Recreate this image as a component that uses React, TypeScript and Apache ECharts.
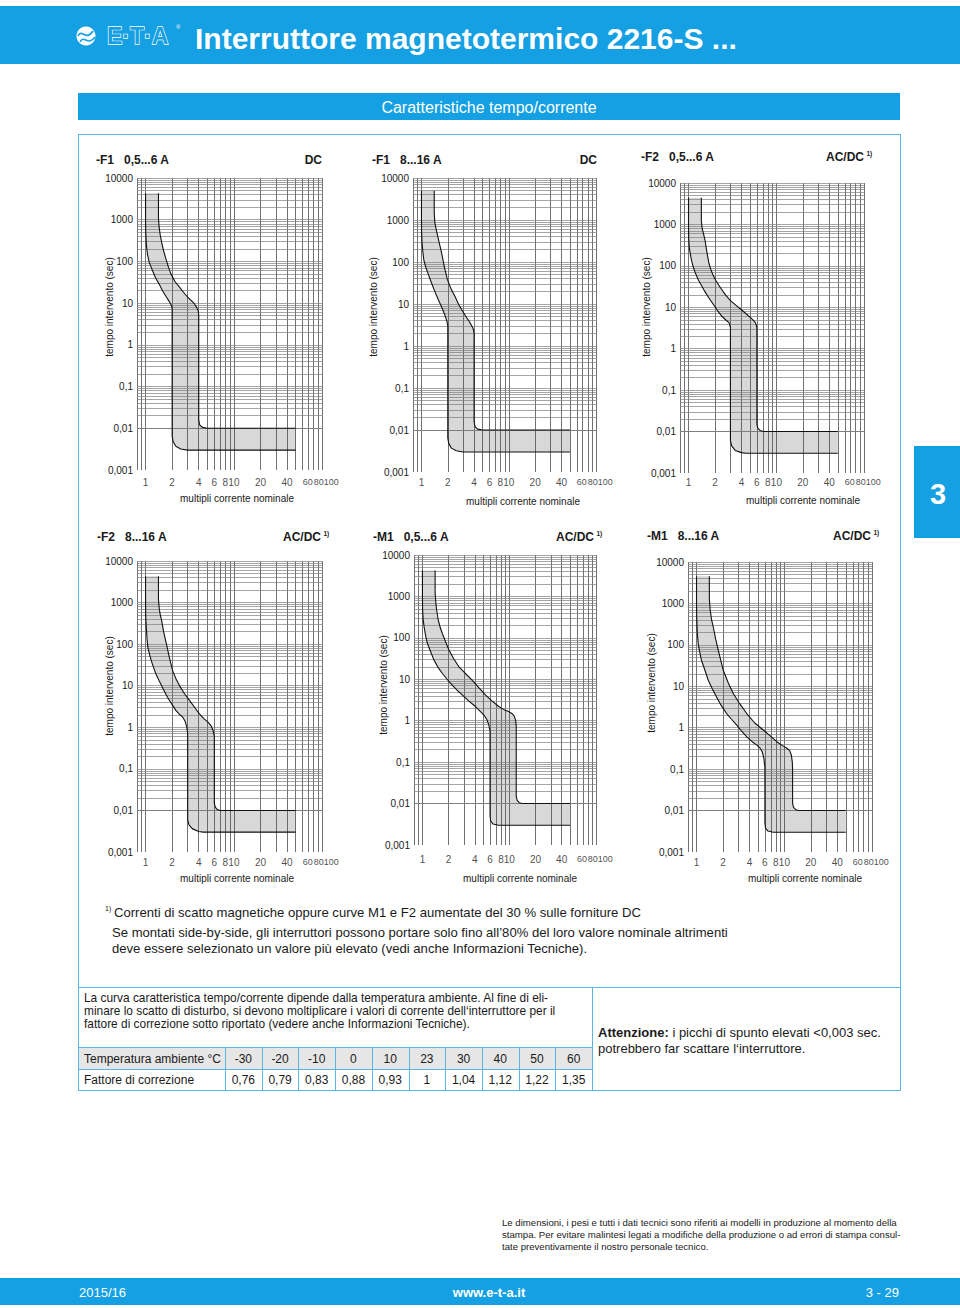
import React, { useEffect, useRef } from 'react';
import * as echarts from 'echarts';

// ---------------- data ----------------
const xTickValues = [1, 2, 4, 6, 8, 10, 20, 40, 60, 80, 100];
const xTickLabels = ['1', '2', '4', '6', '8', '10', '20', '40', '60', '80', '100'];
const xGridLines = [0.8, 0.9, 1, 2, 3, 4, 5, 6, 7, 8, 9, 10, 20, 30, 40, 50, 60, 70, 80, 90, 100];
const yDecades = [0.001, 0.01, 0.1, 1, 10, 100, 1000];
const yMultipliers = [1, 2, 3, 4, 5, 6, 7, 8, 9];
const yTop = 10000;

const panelTitles = ['-F1   0,5...6 A', '-F1   8...16 A', '-F2   0,5...6 A', '-F2   8...16 A', '-M1   0,5...6 A', '-M1   8...16 A'];
const panelSupply = ['DC', 'DC', 'AC/DC', 'AC/DC', 'AC/DC', 'AC/DC'];
const panelFootnote = [false, false, true, true, true, true];

// F1 0,5...6 A DC
const f1SmallLower = [[1, 4300], [1, 1000], [1.005, 500], [1.02, 260], [1.05, 150], [1.1, 95], [1.2, 60], [1.3, 40], [1.42, 29], [1.55, 20], [1.72, 14], [1.85, 11], [1.95, 9], [2.0, 7.5], [2.0, 0.0065], [2.05, 0.0048], [2.2, 0.0037], [2.5, 0.0032], [3.0, 0.003], [50, 0.003]];
const f1SmallUpper = [[1.4, 4300], [1.4, 1100], [1.42, 700], [1.46, 450], [1.52, 290], [1.6, 180], [1.7, 115], [1.82, 72], [1.93, 51], [2.15, 33], [2.41, 24.5], [2.7, 18], [3.0, 14], [3.3, 11.5], [3.57, 9.7], [3.8, 7.8], [3.95, 6.5], [4.0, 5.0], [4.0, 0.016], [4.1, 0.012], [4.4, 0.0105], [5.0, 0.01], [50, 0.01]];

// F1 8...16 A DC
const f1LargeLower = [[1, 5000], [1, 1000], [1.003, 500], [1.015, 300], [1.035, 180], [1.064, 112], [1.12, 75], [1.19, 53], [1.3, 32], [1.42, 20], [1.55, 13], [1.7, 8.5], [1.85, 5.5], [1.95, 4], [2.0, 3], [2.0, 0.0065], [2.05, 0.0048], [2.2, 0.0037], [2.5, 0.0032], [3.0, 0.003], [50, 0.003]];
const f1LargeUpper = [[1.4, 5000], [1.4, 1500], [1.42, 900], [1.46, 650], [1.52, 450], [1.6, 280], [1.7, 165], [1.82, 80], [1.98, 38], [2.2, 22], [2.42, 15], [2.65, 10], [2.9, 7.2], [3.2, 5.2], [3.45, 4.1], [3.7, 3.2], [3.9, 2.6], [4.0, 2.0], [4.0, 0.016], [4.1, 0.012], [4.4, 0.0105], [5.0, 0.01], [50, 0.01]];

// F2 0,5...6 A AC/DC
const f2SmallLower = [[1, 4400], [1, 1000], [1.005, 450], [1.02, 280], [1.05, 190], [1.08, 138], [1.13, 95], [1.2, 66], [1.3, 45], [1.5, 26], [1.7, 17], [2.0, 10.3], [2.2, 7.6], [2.43, 5.9], [2.7, 4.8], [2.9, 4.2], [3.0, 3.3], [3.0, 0.006], [3.1, 0.0045], [3.4, 0.0035], [4.0, 0.0031], [4.5, 0.003], [50, 0.003]];
const f2SmallUpper = [[1.4, 4400], [1.4, 1200], [1.43, 800], [1.48, 600], [1.54, 420], [1.6, 250], [1.66, 160], [1.71, 114], [1.8, 80], [1.9, 60], [2.04, 45], [2.3, 30], [2.65, 19.7], [3.0, 14.5], [3.45, 11.3], [4.0, 8.7], [4.7, 6.5], [5.3, 5.2], [5.75, 4.3], [5.95, 3.6], [6.0, 3.0], [6.0, 0.015], [6.15, 0.012], [6.6, 0.0105], [7.3, 0.01], [50, 0.01]];

// F2 8...16 A AC/DC
const f2LargeLower = [[1, 4300], [1, 1000], [1.005, 450], [1.02, 250], [1.04, 130], [1.06, 85], [1.12, 52], [1.19, 34], [1.3, 20], [1.42, 13.4], [1.6, 8], [1.77, 5.3], [2.0, 3.5], [2.2, 2.55], [2.45, 2.0], [2.63, 1.76], [2.8, 1.4], [2.93, 1.0], [3.0, 0.7], [3.0, 0.006], [3.1, 0.0045], [3.4, 0.0036], [4.0, 0.0031], [4.5, 0.003], [50, 0.003]];
const f2LargeUpper = [[1.4, 4300], [1.4, 1200], [1.43, 700], [1.47, 500], [1.52, 372], [1.6, 200], [1.72, 103], [1.85, 50], [2.02, 23.4], [2.2, 15], [2.41, 10.2], [2.75, 6.5], [3.13, 4.5], [3.6, 3.0], [4.07, 2.1], [4.6, 1.6], [5.1, 1.33], [5.5, 1.1], [5.8, 0.85], [6.0, 0.6], [6.0, 0.015], [6.15, 0.012], [6.5, 0.0105], [7.0, 0.01], [50, 0.01]];

// M1 0,5...6 A AC/DC
const m1SmallLower = [[1, 4200], [1, 1000], [1.005, 470], [1.02, 280], [1.045, 186], [1.09, 110], [1.14, 74], [1.25, 45], [1.36, 29], [1.5, 20], [1.69, 14], [1.9, 10.3], [2.11, 8], [2.5, 5.5], [2.87, 4.2], [3.4, 3.0], [4.07, 2.2], [4.6, 1.7], [5.1, 1.37], [5.5, 1.08], [5.8, 0.8], [6.0, 0.55], [6.0, 0.005], [6.1, 0.0038], [6.5, 0.0032], [7.5, 0.003], [50, 0.003]];
const m1SmallUpper = [[1.4, 4200], [1.4, 1200], [1.43, 650], [1.47, 420], [1.52, 270], [1.6, 180], [1.69, 129], [1.85, 80], [2.02, 51], [2.3, 31], [2.63, 20], [3.1, 14], [3.73, 9.6], [4.4, 6.5], [5.3, 4.2], [6.3, 3.0], [7.55, 2.2], [8.7, 1.85], [9.8, 1.66], [10.7, 1.5], [11.3, 1.33], [11.8, 1.05], [12.0, 0.75], [12.0, 0.015], [12.3, 0.012], [13.0, 0.0105], [14.0, 0.01], [50, 0.01]];

// M1 8...16 A AC/DC
const m1LargeLower = [[1, 4500], [1, 1000], [1.005, 500], [1.02, 200], [1.045, 107], [1.09, 65], [1.14, 42], [1.25, 24], [1.36, 14], [1.5, 9], [1.69, 5.5], [1.9, 3.5], [2.2, 2.2], [2.5, 1.6], [2.87, 1.15], [3.3, 0.8], [3.73, 0.6], [4.3, 0.46], [4.86, 0.38], [5.3, 0.32], [5.6, 0.26], [5.85, 0.18], [6.0, 0.11], [6.0, 0.005], [6.1, 0.0038], [6.5, 0.0032], [7.5, 0.003], [50, 0.003]];
const m1LargeUpper = [[1.4, 4500], [1.4, 1300], [1.43, 700], [1.48, 420], [1.55, 270], [1.65, 140], [1.77, 74], [1.9, 40], [2.02, 24], [2.3, 12], [2.63, 6.6], [3.1, 3.8], [3.73, 2.2], [4.6, 1.3], [5.8, 0.87], [7.0, 0.62], [8.2, 0.46], [9.5, 0.37], [10.7, 0.32], [11.5, 0.28], [12.0, 0.22], [12.3, 0.15], [12.4, 0.1], [12.4, 0.015], [12.7, 0.012], [13.5, 0.0105], [14.6, 0.01], [50, 0.01]];

const lowerCurves = [f1SmallLower, f1LargeLower, f2SmallLower, f2LargeLower, m1SmallLower, m1LargeLower];
const upperCurves = [f1SmallUpper, f1LargeUpper, f2SmallUpper, f2LargeUpper, m1SmallUpper, m1LargeUpper];

const tempLabels = ['-30', '-20', '-10', '0', '10', '23', '30', '40', '50', '60'];
const corrFactors = ['0,76', '0,79', '0,83', '0,88', '0,93', '1', '1,04', '1,12', '1,22', '1,35'];

// ---------------- layout / style ----------------
const layouts = [
  { grid: [137, 178, 186, 292], title: [96, 160], supplyRight: 322, yName: [109, 307], xName: [237, 498], tickGap: 7 },
  { grid: [413, 178, 184, 294], title: [372, 160], supplyRight: 597, yName: [373, 307], xName: [523, 501], tickGap: 5 },
  { grid: [680, 183, 185, 290], title: [641, 157], supplyRight: 864, yName: [646, 307], xName: [803, 500], tickGap: 4 },
  { grid: [137, 561, 186, 291], title: [97, 537], supplyRight: 321, yName: [109, 686], xName: [237, 878], tickGap: 5 },
  { grid: [414, 555, 183, 290], title: [373, 537], supplyRight: 594, yName: [383, 685], xName: [520, 878], tickGap: 9 },
  { grid: [688, 562, 185, 290], title: [647, 536], supplyRight: 871, yName: [651, 683], xName: [805, 878], tickGap: 5 },
];
const xTickLabelShift = [0, 0, 0, 0, 0, 0, 0, 0, 5, 5, 9];
const xTickLabelSize = [10, 10, 10, 10, 10, 10, 10, 10, 9, 9, 9];

const FONT = '"Liberation Sans", Arial, Helvetica, sans-serif';
const BLUE = '#14a0e2';
const BORDER = '#5cb4e3';
const TEXT = '#1a1a1a';

function txt(text: string, x: number, y: number, o: any = {}) {
  return {
    type: 'text',
    x,
    y,
    rotation: o.rotation || 0,
    silent: true,
    z: 20,
    style: {
      text,
      fill: o.fill || TEXT,
      fontSize: o.size || 12,
      fontWeight: o.weight || 'normal',
      fontFamily: FONT,
      align: o.align || 'left',
      verticalAlign: 'middle',
      stroke: o.stroke,
      lineWidth: o.lineWidth,
      rich: o.rich,
    },
  };
}
function ln(x1: number, y1: number, x2: number, y2: number, color = BORDER, w = 1) {
  return { type: 'line', silent: true, z: 15, shape: { x1, y1, x2, y2 }, style: { stroke: color, lineWidth: w } };
}
function rc(x: number, y: number, width: number, height: number, fill: string) {
  return { type: 'rect', silent: true, z: 10, shape: { x, y, width, height }, style: { fill } };
}

function buildOption() {
  const yGridLines: number[] = [];
  yDecades.forEach((d) => yMultipliers.forEach((m) => yGridLines.push(d * m)));
  yGridLines.push(yTop);

  const grids: any[] = [];
  const xAxes: any[] = [];
  const yAxes: any[] = [];
  const series: any[] = [];
  const graphics: any[] = [];

  layouts.forEach((L, i) => {
    grids.push({ left: L.grid[0], top: L.grid[1], width: L.grid[2], height: L.grid[3], containLabel: false, outerBoundsMode: 'none' });
    xAxes.push({
      type: 'log', gridIndex: i, min: 0.8, max: 102, logBase: 10,
      axisLine: { show: false }, axisTick: { show: false }, axisLabel: { show: false }, splitLine: { show: false },
    });
    yAxes.push({
      type: 'log', gridIndex: i, min: 0.001, max: yTop, logBase: 10,
      axisLine: { show: false }, axisTick: { show: false }, splitLine: { show: false },
      axisLabel: {
        margin: 4, fontSize: 10, color: TEXT, fontFamily: FONT,
        formatter: (v: number) => {
          const n = Math.round(Math.log10(v));
          return n >= 0 ? String(Math.round(Math.pow(10, n))) : '0,' + '0'.repeat(-n - 1) + '1';
        },
      },
    });

    const lower = lowerCurves[i];
    const upper = upperCurves[i];
    const poly = lower.concat(upper.slice().reverse());

    series.push({
      type: 'custom', xAxisIndex: i, yAxisIndex: i, z: 2, silent: true, clip: false,
      data: [lower[0]],
      renderItem: (_p: any, api: any) => ({
        type: 'polygon',
        shape: { points: poly.map((p) => api.coord(p)) },
        style: { fill: '#d8d8d8' },
      }),
    });

    const gridData: any[] = [];
    xGridLines.forEach((v) => gridData.push({ xAxis: v, lineStyle: { color: '#4c4c4c', width: 0.8, type: 'solid' } }));
    yGridLines.forEach((v) => gridData.push({ yAxis: v, lineStyle: { color: '#7e7e7e', width: 0.7, type: 'solid' } }));

    series.push({
      type: 'line', xAxisIndex: i, yAxisIndex: i, z: 8, silent: true,
      data: lower, symbol: 'none', lineStyle: { color: '#111', width: 1.1 },
      markLine: { silent: true, z: 5, symbol: ['none', 'none'], label: { show: false }, data: gridData },
    });
    series.push({
      type: 'line', xAxisIndex: i, yAxisIndex: i, z: 8, silent: true,
      data: upper, symbol: 'none', lineStyle: { color: '#111', width: 1.1 },
    });
    series.push({
      type: 'scatter', xAxisIndex: i, yAxisIndex: i, z: 9, silent: true, clip: false,
      symbolSize: 1, itemStyle: { color: 'rgba(0,0,0,0)' },
      data: xTickValues.map((v, k) => ({
        value: [v, 0.001],
        label: { offset: [xTickLabelShift[k], 0], fontSize: xTickLabelSize[k] },
      })),
      label: {
        show: true, position: 'bottom', distance: L.tickGap, fontSize: 10, color: TEXT, fontFamily: FONT,
        formatter: (p: any) => xTickLabels[p.dataIndex],
      },
    });

    graphics.push(txt(panelTitles[i], L.title[0], L.title[1], { size: 12, weight: 'bold' }));
    graphics.push(txt(panelSupply[i], L.supplyRight, L.title[1], { size: 12, weight: 'bold', align: 'right' }));
    if (panelFootnote[i]) graphics.push(txt('1)', L.supplyRight + 2.5, L.title[1] - 4, { size: 6.5, weight: 'bold' }));
    graphics.push(txt('tempo intervento (sec)', L.yName[0], L.yName[1], { size: 10, align: 'center', rotation: Math.PI / 2 }));
    graphics.push(txt('multipli corrente nominale', L.xName[0], L.xName[1], { size: 10, align: 'center' }));
  });

  // header
  graphics.push(rc(0, 6, 960, 58, BLUE));
  graphics.push({ type: 'circle', silent: true, z: 12, shape: { cx: 86, cy: 36, r: 9.5 }, style: { fill: '#fff' } });
  graphics.push({ type: 'bezierCurve', silent: true, z: 13, shape: { x1: 78, y1: 36, cpx1: 82, cpy1: 28, cpx2: 86, cpy2: 42, x2: 93, y2: 31 }, style: { stroke: BLUE, lineWidth: 1.6, fill: null } });
  graphics.push({ type: 'bezierCurve', silent: true, z: 13, shape: { x1: 80, y1: 42, cpx1: 84, cpy1: 34, cpx2: 88, cpy2: 47, x2: 95, y2: 37 }, style: { stroke: BLUE, lineWidth: 1.6, fill: null } });
  graphics.push(txt('E·T·A', 107, 36, { size: 23, weight: 'bold', fill: BLUE, stroke: '#fff', lineWidth: 1.3 }));
  graphics.push(txt('®', 176, 27, { size: 6, fill: '#fff' }));
  graphics.push(txt('Interruttore magnetotermico 2216-S ...', 195, 38, { size: 30, weight: 'bold', fill: '#fff' }));

  // sub header
  graphics.push(rc(78, 93, 822, 27, BLUE));
  graphics.push(txt('Caratteristiche tempo/corrente', 489, 107, { size: 16, fill: '#fff', align: 'center' }));

  // outer box
  graphics.push(ln(78, 134.5, 901, 134.5));
  graphics.push(ln(78.5, 134, 78.5, 1091));
  graphics.push(ln(900.5, 134, 900.5, 1091));
  graphics.push(ln(78, 987.5, 901, 987.5));
  graphics.push(ln(78, 1090.5, 901, 1090.5));
  graphics.push(ln(592.5, 987, 592.5, 1091));

  // right tab
  graphics.push(rc(914, 446, 46, 92, BLUE));
  graphics.push(txt('3', 938, 494, { size: 29, weight: 'bold', fill: '#fff', align: 'center' }));

  // footnotes
  graphics.push(txt('1)', 105, 908, { size: 7 }));
  graphics.push(txt('Correnti di scatto magnetiche oppure curve M1 e F2 aumentate del 30 % sulle forniture DC', 114, 912, { size: 13.1 }));
  graphics.push(txt('Se montati side-by-side, gli interruttori possono portare solo fino all’80% del loro valore nominale altrimenti', 112, 932, { size: 13.1 }));
  graphics.push(txt('deve essere selezionato un valore più elevato (vedi anche Informazioni Tecniche).', 112, 948, { size: 13.1 }));

  // temperature section
  graphics.push(txt('La curva caratteristica tempo/corrente dipende dalla temperatura ambiente. Al fine di eli-', 84, 998, { size: 11.9 }));
  graphics.push(txt('minare lo scatto di disturbo, si devono moltiplicare i valori di corrente dell‘interruttore per il', 84, 1011, { size: 11.9 }));
  graphics.push(txt('fattore di correzione sotto riportato (vedere anche Informazioni Tecniche).', 84, 1024, { size: 11.9 }));

  graphics.push(rc(79, 1048, 513, 21, '#e6e6e6'));
  graphics.push(ln(78, 1047.5, 592, 1047.5));
  graphics.push(ln(78, 1069.5, 592, 1069.5));
  const colW = (592 - 225) / tempLabels.length;
  for (let k = 0; k < tempLabels.length; k++) {
    const x0 = 225 + k * colW;
    graphics.push(ln(Math.round(x0) + 0.5, 1047, Math.round(x0) + 0.5, 1090));
    graphics.push(txt(tempLabels[k], x0 + colW / 2, 1059, { size: 12, align: 'center' }));
    graphics.push(txt(corrFactors[k], x0 + colW / 2, 1080, { size: 12, align: 'center' }));
  }
  graphics.push(txt('Temperatura ambiente °C', 84, 1059, { size: 12 }));
  graphics.push(txt('Fattore di correzione', 84, 1080, { size: 12 }));

  graphics.push(txt('{b|Attenzione:}{n| i picchi di spunto elevati <0,003 sec.}', 598, 1032, {
    size: 13,
    rich: {
      b: { fontWeight: 'bold', fontSize: 13, fontFamily: FONT, fill: TEXT },
      n: { fontSize: 13, fontFamily: FONT, fill: TEXT },
    },
  }));
  graphics.push(txt('potrebbero far scattare l‘interruttore.', 598, 1048, { size: 13 }));

  // disclaimer
  graphics.push(txt('Le dimensioni, i pesi e tutti i dati tecnici sono riferiti ai modelli in produzione al momento della', 502, 1222, { size: 9.6 }));
  graphics.push(txt('stampa. Per evitare malintesi legati a modifiche della produzione o ad errori di stampa consul-', 502, 1234, { size: 9.6 }));
  graphics.push(txt('tate preventivamente il nostro personale tecnico.', 502, 1246, { size: 9.6 }));

  // footer
  graphics.push(rc(0, 1278, 960, 27, BLUE));
  graphics.push(txt('2015/16', 79, 1292, { size: 13, fill: '#fff' }));
  graphics.push(txt('www.e-t-a.it', 489, 1292, { size: 13, weight: 'bold', fill: '#fff', align: 'center' }));
  graphics.push(txt('3 - 29', 899, 1292, { size: 13, fill: '#fff', align: 'right' }));

  return {
    animation: false,
    backgroundColor: '#ffffff',
    grid: grids,
    xAxis: xAxes,
    yAxis: yAxes,
    series,
    graphic: { elements: graphics },
  };
}

export default function App() {
  const ref = useRef<HTMLDivElement>(null);
  useEffect(() => {
    document.body.style.margin = '0';
    const chart = echarts.init(ref.current as HTMLDivElement, null, { renderer: 'svg' });
    chart.setOption(buildOption() as any);
    return () => chart.dispose();
  }, []);
  return <div ref={ref} style={{ position: 'absolute', left: 0, top: 0, width: 960, height: 1308, background: '#fff' }} />;
}
